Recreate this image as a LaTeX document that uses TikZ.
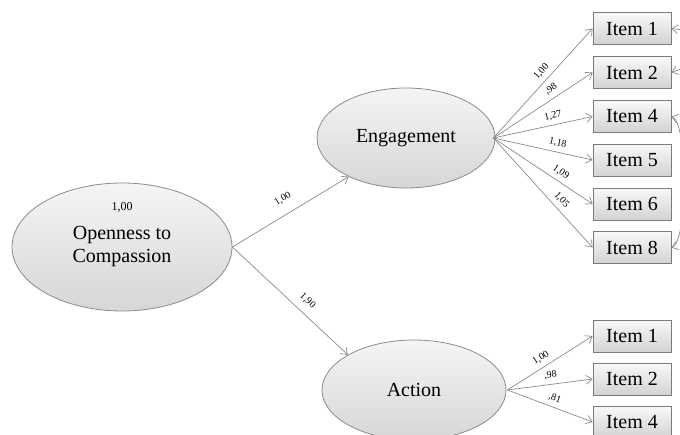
\documentclass[tikz,border=0pt]{standalone}
\usepackage{fontspec}
\setmainfont{Liberation Serif}
\usetikzlibrary{shapes.geometric,arrows.meta}
\definecolor{ln}{HTML}{8C8C8C}
\definecolor{bx}{HTML}{7A7A7A}
\begin{document}
\begin{tikzpicture}[x=1pt,y=-1pt,
 lat/.style={ellipse,draw=ln,line width=0.8pt,top color=gray!8,bottom color=gray!32,inner sep=0pt,font=\fontsize{20}{23}\selectfont,align=center},
 obs/.style={rectangle,draw=bx,line width=0.8pt,top color=gray!5,bottom color=gray!35,minimum width=78pt,minimum height=32pt,inner sep=0pt,font=\fontsize{20}{23}\selectfont},
 arr/.style={draw=ln,line width=0.7pt,-{Straight Barb[length=6pt,width=9pt]}},
 darr/.style={draw=ln,line width=0.7pt,{Straight Barb[length=6pt,width=9pt]}-{Straight Barb[length=6pt,width=9pt]}},
 wt/.style={font=\fontsize{10}{12}\selectfont,sloped,above=4pt,inner sep=0.5pt},
]
\useasboundingbox (0,0) rectangle (680,434);
\clip (0,0) rectangle (680,434);
\fill[white] (0,0) rectangle (680,434);

\node[lat,minimum width=220pt,minimum height=128pt] (open) at (122,247) {Openness to\\Compassion};
\node[font=\fontsize{12}{14}\selectfont,inner sep=0pt] (var) at (122,207) {1,00};
\node[lat,minimum width=178pt,minimum height=100pt] (eng) at (406,138) {Engagement};
\node[lat,minimum width=184pt,minimum height=100pt] (act) at (414,390) {Action};

\node[obs] (e1) at (632,28.5) {Item 1};
\node[obs] (e2) at (632,72.5) {Item 2};
\node[obs] (e4) at (632,116.5) {Item 4};
\node[obs] (e5) at (632,160) {Item 5};
\node[obs] (e6) at (632,204) {Item 6};
\node[obs] (e8) at (632,247.5) {Item 8};

\node[obs] (a1) at (632,336) {Item 1};
\node[obs] (a2) at (632,379) {Item 2};
\node[obs] (a4) at (632,422) {Item 4};

\coordinate (ef) at ([xshift=-2pt]eng.east);
\coordinate (af) at ([xshift=1pt]act.east);

\draw[arr] (open.east) -- (eng.214) node[wt,pos=0.5,above=6pt]{1,00};
\draw[arr] (open.east) -- (act.152) node[wt,pos=0.58,above=3pt]{1,90};

\draw[arr] (ef) -- (e1.west) node[wt,pos=0.55]{1,00};
\draw[arr] (ef) -- (e2.west) node[wt,pos=0.63]{,98};
\draw[arr] (ef) -- (e4.west) node[wt,pos=0.62]{1,27};
\draw[arr] (ef) -- (e5.west) node[wt,pos=0.63]{1,18};
\draw[arr] (ef) -- (e6.west) node[wt,pos=0.63]{1,09};
\draw[arr] (ef) -- (e8.west) node[wt,pos=0.62]{1,05};

\draw[arr] (af) -- (a1.west) node[wt,pos=0.45]{1,00};
\draw[arr] (af) -- (a2.west) node[wt,pos=0.52]{,98};
\draw[arr] (af) -- (a4.west) node[wt,pos=0.52]{,81};

\coordinate (r1) at (700,32);
\coordinate (r2) at (700,62);
\draw[arr] (r1) -- (e1.east);
\draw[arr] (r2) -- (e2.east);
\draw[darr] (e4.east) .. controls (688,122) and (688,242) .. (e8.east);
\end{tikzpicture}
\end{document}
